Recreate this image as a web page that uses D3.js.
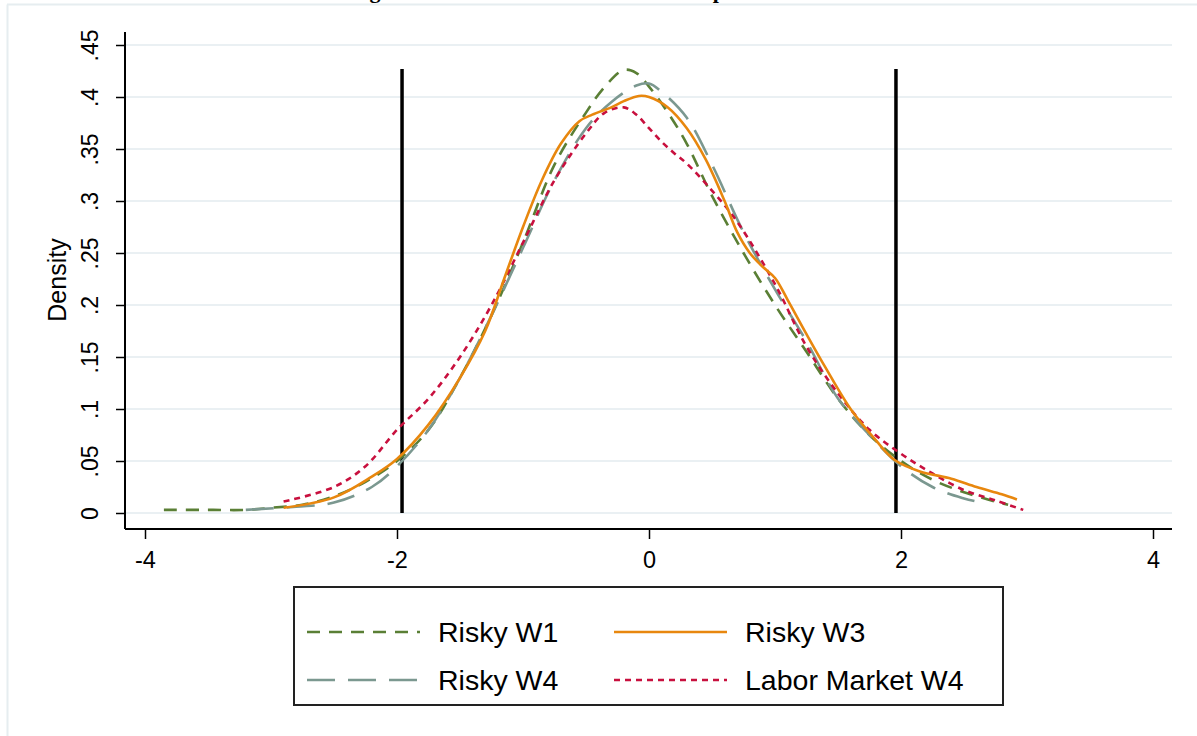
<!DOCTYPE html>
<html>
<head>
<meta charset="utf-8">
<script src="https://cdn.jsdelivr.net/npm/d3@7"></script>
<style>
  body { margin: 0; background: #fff; }
  svg { display: block; font-family: "Liberation Sans", Arial, sans-serif; }
</style>
</head>
<body>
<div id="chart"></div>
<script>
//////////////////////////////////////////////////////////////////////////////
// Data (x = standardised score, d = density)

var xTicks = [-4, -2, 0, 2, 4];
var yTicks = [0, .05, .1, .15, .2, .25, .3, .35, .4, .45];
var yTickLabels = ["0", ".05", ".1", ".15", ".2", ".25", ".3", ".35", ".4", ".45"];
var cutoffs = [-1.96, 1.96];

var riskyW1 = [
  [-3.85, .003], [-3.5, .003], [-3.2, .003], [-3.0, .005], [-2.75, .008], [-2.5, .016],
  [-2.25, .03], [-2.0, .05], [-1.75, .08], [-1.5, .13], [-1.25, .19], [-1.0, .26],
  [-0.75, .335], [-0.5, .385], [-0.35, .41], [-0.2, .426], [-0.1, .423], [0, .41],
  [0.15, .385], [0.3, .355], [0.5, .305], [0.75, .25], [1.0, .2], [1.25, .155],
  [1.5, .11], [1.75, .075], [2.0, .05], [2.25, .032], [2.5, .02], [2.75, .011], [2.85, .008]
];
var riskyW3 = [
  [-2.9, .005], [-2.5, .015], [-2.2, .035], [-2.0, .052], [-1.75, .085], [-1.5, .13],
  [-1.3, .175], [-1.15, .225], [-1.0, .275], [-0.85, .32], [-0.7, .355], [-0.55, .377],
  [-0.45, .383], [-0.3, .39], [-0.2, .396], [-0.08, .401], [0, .4], [0.15, .39],
  [0.3, .37], [0.45, .34], [0.6, .3], [0.7, .27], [0.8, .25], [0.9, .237],
  [1.0, .226], [1.1, .205], [1.25, .172], [1.4, .14], [1.6, .1], [1.8, .07],
  [1.95, .051], [2.15, .04], [2.4, .033], [2.6, .025], [2.8, .018], [2.92, .013]
];
var riskyW4 = [
  [-3.2, .003], [-2.8, .006], [-2.5, .01], [-2.2, .025], [-2.0, .045], [-1.75, .08],
  [-1.5, .13], [-1.25, .19], [-1.0, .255], [-0.75, .32], [-0.5, .37], [-0.3, .395],
  [-0.1, .411], [0, .413], [0.1, .405], [0.3, .38], [0.5, .335], [0.75, .27],
  [1.0, .215], [1.25, .165], [1.5, .11], [1.75, .075], [2.0, .045], [2.25, .025],
  [2.5, .014], [2.6, .011]
];
var laborW4 = [
  [-2.9, .011], [-2.5, .025], [-2.25, .045], [-2.0, .08], [-1.75, .11], [-1.5, .15],
  [-1.25, .2], [-1.0, .26], [-0.75, .32], [-0.5, .365], [-0.35, .385], [-0.2, .39],
  [-0.1, .383], [0, .37], [0.1, .357], [0.2, .346], [0.3, .336], [0.5, .31],
  [0.7, .28], [1.0, .22], [1.25, .16], [1.5, .115], [1.75, .08], [2.0, .057],
  [2.25, .038], [2.5, .022], [2.75, .012], [2.97, .003]
];

var seriesNames = ["Risky W1", "Risky W3", "Risky W4", "Labor Market W4"];
var seriesData = [riskyW1, riskyW3, riskyW4, laborW4];
var seriesColors = ["#5a7f35", "#e8870e", "#7b9890", "#c8103e"];
var seriesDash = ["13,9", null, "28,13", "6,5"];

//////////////////////////////////////////////////////////////////////////////
// Layout

var width = 1197, height = 736;

var xScale = d3.scaleLinear().domain([-4, 4]).range([145, 1153]);
var yScale = d3.scaleLinear().domain([0, .45]).range([513, 45]);

var svg = d3.select("#chart")
  .append("svg")
  .attr("width", width)
  .attr("height", height);

// faint outer frame of the graph region
svg.append("line").attr("x1", 7).attr("x2", width).attr("y1", 4.5).attr("y2", 4.5)
  .attr("stroke", "#e6edf0").attr("stroke-width", 2);
svg.append("line").attr("x1", 7.5).attr("x2", 7.5).attr("y1", 4.5).attr("y2", height)
  .attr("stroke", "#e6edf0").attr("stroke-width", 2);

// title, mostly cut off at the top edge as in the source
svg.append("text")
  .attr("x", 350).attr("y", -2)
  .attr("font-family", "Liberation Serif, Times New Roman, serif")
  .attr("font-weight", "bold")
  .attr("font-size", 22)
  .text("Figure 5: Risk Attitude Measures Compared");

// gridlines
svg.append("g")
  .selectAll("line")
  .data(yTicks)
  .enter()
  .append("line")
  .attr("x1", 125).attr("x2", 1172)
  .attr("y1", function(d) { return yScale(d); })
  .attr("y2", function(d) { return yScale(d); })
  .attr("stroke", "#eaf0f3")
  .attr("stroke-width", 2);

// y axis
var yAxis = d3.axisLeft(yScale)
  .tickValues(yTicks)
  .tickSize(9)
  .tickFormat(function(d, i) { return yTickLabels[i]; });

var gy = svg.append("g").attr("transform", "translate(125,0)").call(yAxis);
gy.select(".domain").attr("d", "M0,32V529").attr("stroke", "#000").attr("stroke-width", 2);
gy.selectAll(".tick line").attr("stroke", "#000").attr("stroke-width", 1.5);
gy.selectAll(".tick text")
  .attr("font-family", "Liberation Sans, Arial, sans-serif")
  .attr("font-size", 23)
  .attr("fill", "#000")
  .attr("text-anchor", "middle")
  .attr("dy", 0)
  .attr("x", 0).attr("y", 0)
  .attr("transform", "translate(-27,0) rotate(-90)");

// x axis
var xAxis = d3.axisBottom(xScale)
  .tickValues(xTicks)
  .tickSize(10)
  .tickFormat(d3.format("d"));

var gx = svg.append("g").attr("transform", "translate(0,529)").call(xAxis);
gx.select(".domain").attr("d", "M125,0H1172").attr("stroke", "#000").attr("stroke-width", 2);
gx.selectAll(".tick line").attr("stroke", "#000").attr("stroke-width", 1.5);
gx.selectAll(".tick text")
  .attr("font-family", "Liberation Sans, Arial, sans-serif")
  .attr("font-size", 23.5)
  .attr("fill", "#000")
  .attr("y", 39)
  .attr("dy", 0)
  .text(function(d) { return d < 0 ? "-" + Math.abs(d) : d; });

// axis title
svg.append("text")
  .attr("transform", "translate(66,280) rotate(-90)")
  .attr("text-anchor", "middle")
  .attr("font-size", 25)
  .text("Density");

// vertical cut-off lines, up to the highest density
var dMax = d3.max(seriesData, function(s) { return d3.max(s, function(p) { return p[1]; }); });
svg.append("g")
  .selectAll("line")
  .data(cutoffs)
  .enter()
  .append("line")
  .attr("x1", function(d) { return xScale(d); })
  .attr("x2", function(d) { return xScale(d); })
  .attr("y1", yScale(0))
  .attr("y2", yScale(dMax) - 1)
  .attr("stroke", "#000")
  .attr("stroke-width", 3.5);

// density curves
var line = d3.line()
  .x(function(d) { return xScale(d[0]); })
  .y(function(d) { return yScale(d[1]); })
  .curve(d3.curveCatmullRom);

var order = [0, 2, 3, 1];
order.forEach(function(i) {
  svg.append("path")
    .datum(seriesData[i])
    .attr("d", line)
    .attr("fill", "none")
    .attr("stroke", seriesColors[i])
    .attr("stroke-width", 2.6)
    .attr("stroke-dasharray", seriesDash[i]);
});

// legend
var legend = svg.append("g");
legend.append("rect")
  .attr("x", 294).attr("y", 587)
  .attr("width", 709).attr("height", 118)
  .attr("fill", "#fff")
  .attr("stroke", "#222")
  .attr("stroke-width", 2);

var legendPos = [[307, 632], [614, 632], [307, 680], [614, 680]];
seriesNames.forEach(function(name, i) {
  var p = legendPos[i];
  legend.append("line")
    .attr("x1", p[0]).attr("x2", p[0] + 113)
    .attr("y1", p[1]).attr("y2", p[1])
    .attr("stroke", seriesColors[i])
    .attr("stroke-width", 2.6)
    .attr("stroke-dasharray", seriesDash[i]);
  legend.append("text")
    .attr("x", p[0] + 131).attr("y", p[1] + 10)
    .attr("font-size", 28.5)
    .text(name);
});
</script>
</body>
</html>
